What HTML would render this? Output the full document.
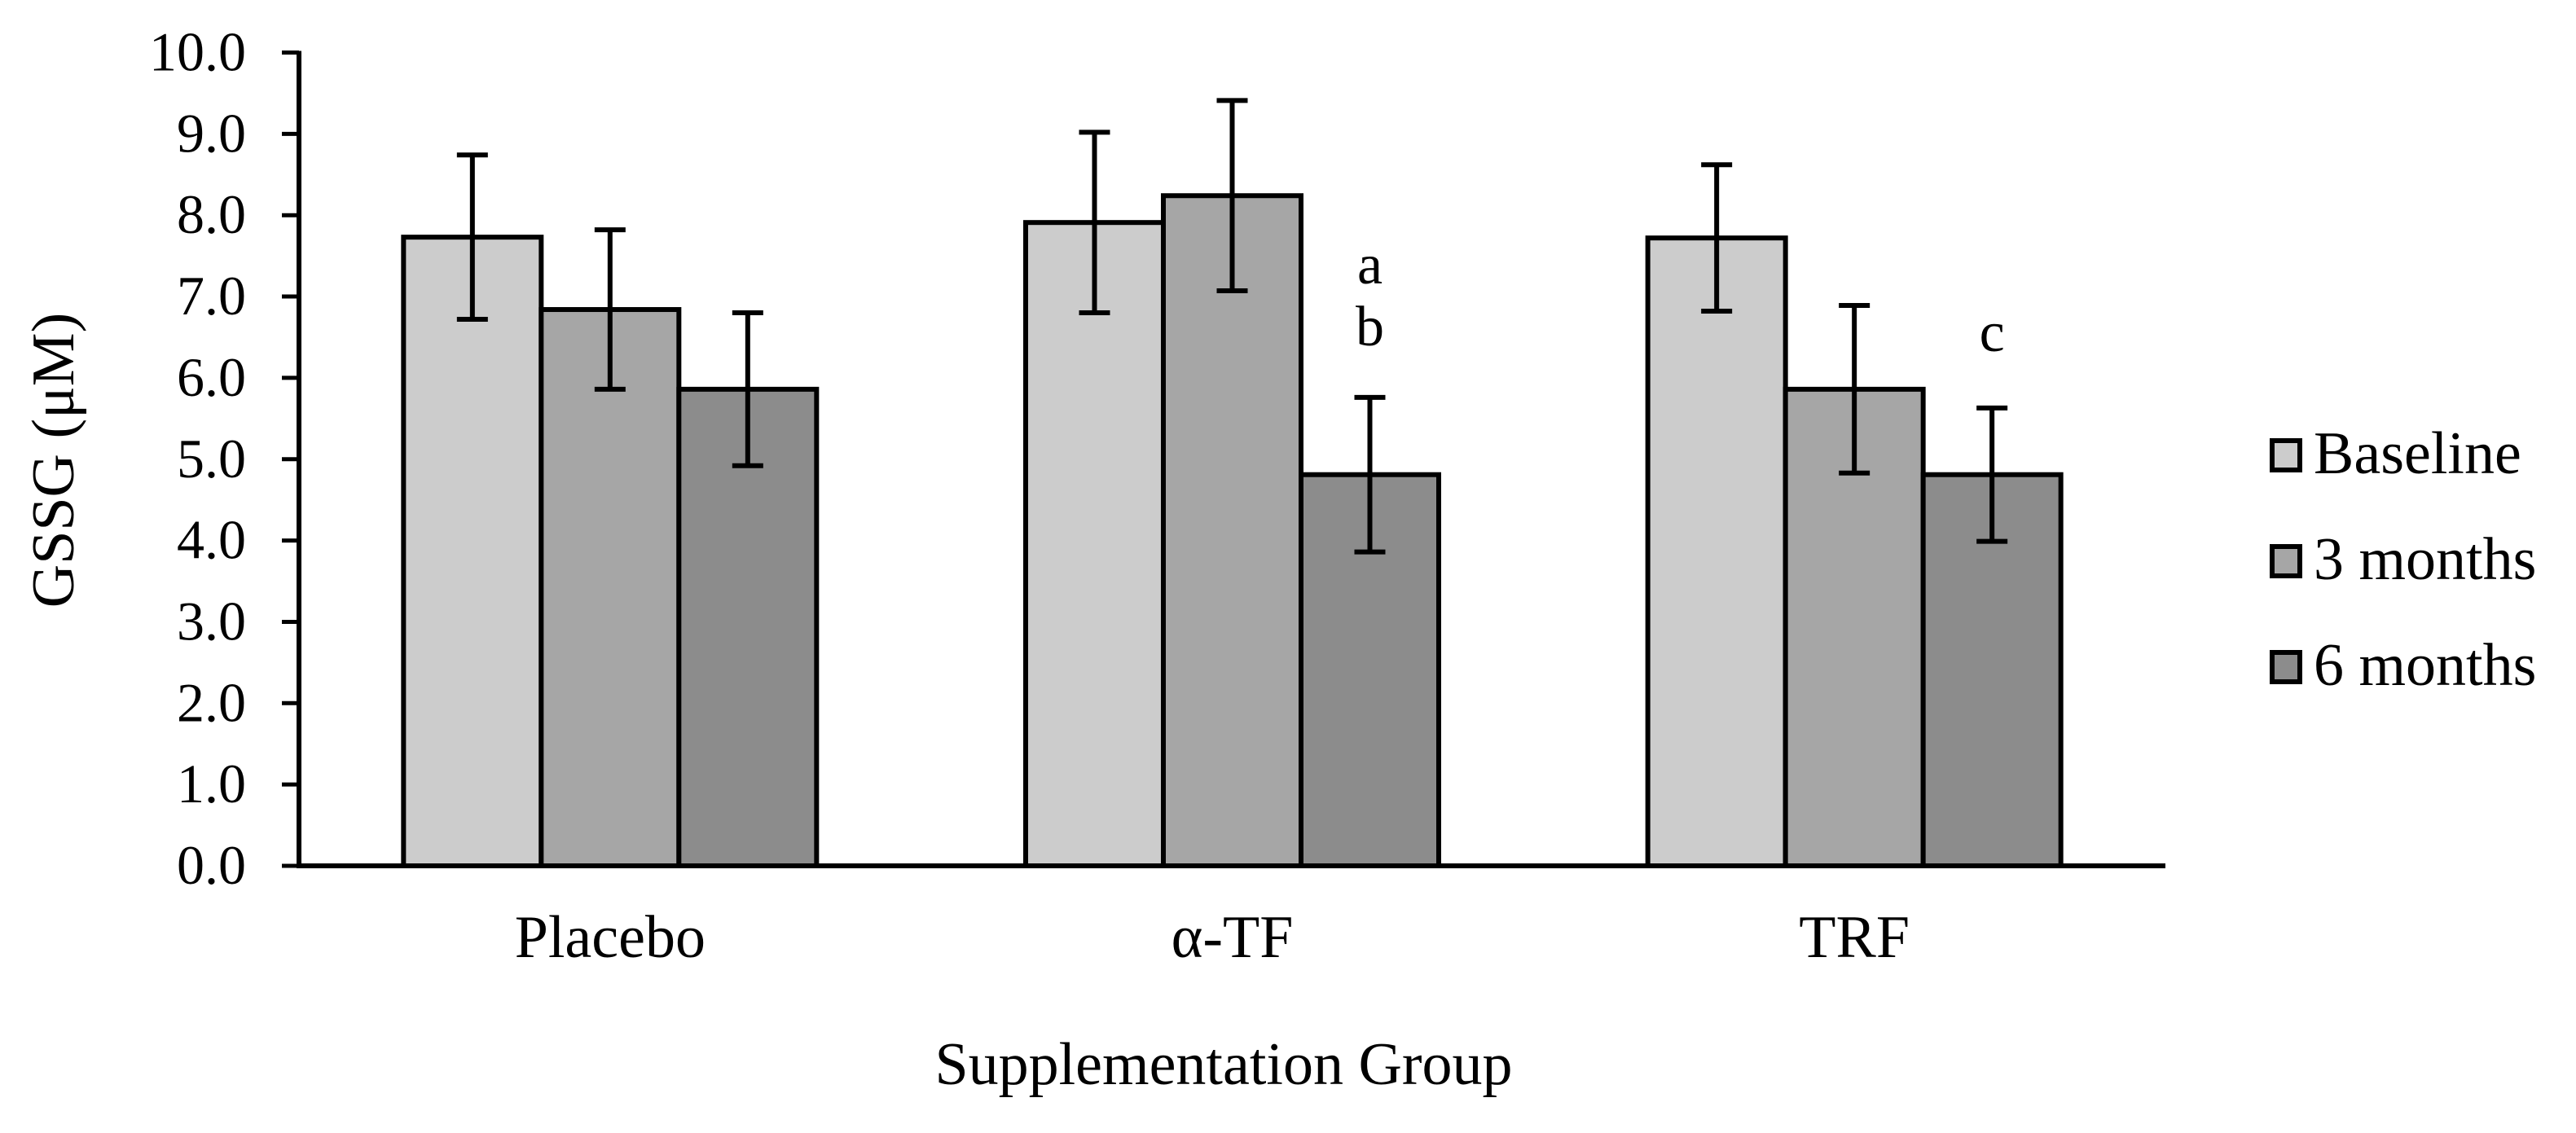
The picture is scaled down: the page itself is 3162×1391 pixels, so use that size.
<!DOCTYPE html>
<html><head><meta charset="utf-8"><style>
html,body{margin:0;padding:0;background:#fff;}
svg{display:block;font-family:"Liberation Serif","Times New Roman",serif;}
</style></head><body>
<svg id="chart" width="3162" height="1391" viewBox="0 0 3162 1391" xmlns="http://www.w3.org/2000/svg">
<rect width="3162" height="1391" fill="#fff"/>
<g id="bars"></g>
<g id="axes"></g>
<text transform="translate(90,565) rotate(-90)" text-anchor="middle" font-size="74">GSSG (μM)</text>
<text x="1502" y="1331" text-anchor="middle" font-size="74">Supplementation Group</text>
<g id="legend"></g>
</svg>
<script>
const categories = ["Placebo", "α-TF", "TRF"];
const seriesNames = ["Baseline", "3 months", "6 months"];
const baseline = [7.73, 7.91, 7.72];
const months3 = [6.84, 8.24, 5.86];
const months6 = [5.86, 4.81, 4.81];
const baselineErr = [1.01, 1.11, 0.90];
const months3Err = [0.98, 1.17, 1.03];
const months6Err = [0.94, 0.95, 0.82];
const yTicks = ["0.0","1.0","2.0","3.0","4.0","5.0","6.0","7.0","8.0","9.0","10.0"];
const annotations = [{cat:1, series:2, text:"a", value:7.16}, {cat:1, series:2, text:"b", value:6.40}, {cat:2, series:2, text:"c", value:6.33}];

const NS = "http://www.w3.org/2000/svg";
const colors = ["#cccccc", "#a6a6a6", "#8c8c8c"];
const X0 = 367, X1 = 2658, Y0 = 1063, YMAX = 10, YTOP = 64.5;
const catW = (X1 - X0) / categories.length, barW = 169;
function yScale(v){ return Y0 - (Y0 - YTOP) * v / YMAX; }
function xBar(c, s){ return X0 + c * catW + (catW - 3 * barW) / 2 + s * barW; }
function mk(tag, attrs, parent){ const e = document.createElementNS(NS, tag); for (const k in attrs) e.setAttribute(k, attrs[k]); parent.appendChild(e); return e; }

const series = [baseline, months3, months6];
const errs = [baselineErr, months3Err, months6Err];
const bars = document.getElementById('bars');
for (let c = 0; c < categories.length; c++) {
  for (let s = 0; s < 3; s++) {
    const v = series[s][c], x = xBar(c, s), y = yScale(v);
    const r = mk('rect', {x: x, y: y, width: barW, height: Y0 - y, fill: colors[s], stroke: '#000', 'stroke-width': 6}, bars);
    
    
  }
}
for (let c = 0; c < categories.length; c++) {
  for (let s = 0; s < 3; s++) {
    const v = series[s][c], e = errs[s][c], cx = xBar(c, s) + barW / 2;
    const g = mk('g', {stroke: '#000', 'stroke-width': 6}, bars);
    
    
    mk('line', {x1: cx, x2: cx, y1: yScale(v + e), y2: yScale(v - e)}, g);
    mk('line', {x1: cx - 19, x2: cx + 19, y1: yScale(v + e), y2: yScale(v + e)}, g);
    mk('line', {x1: cx - 19, x2: cx + 19, y1: yScale(v - e), y2: yScale(v - e)}, g);
  }
}
annotations.forEach(a => {
  const t = mk('text', {x: xBar(a.cat, a.series) + barW / 2, y: yScale(a.value), 'text-anchor': 'middle', 'font-size': 70}, bars);
  
  
  t.textContent = a.text;
});

const axes = document.getElementById('axes');
const yl = mk('line', {x1: X0, x2: X0, y1: YTOP - 2, y2: Y0 + 3, stroke: '#000', 'stroke-width': 6}, axes);


const xl = mk('line', {x1: X0 - 3, x2: X1, y1: Y0, y2: Y0, stroke: '#000', 'stroke-width': 6}, axes);


yTicks.forEach((lab, i) => {
  const y = yScale(parseFloat(lab));
  mk('line', {x1: X0 - 21, x2: X0, y1: y, y2: y, stroke: '#000', 'stroke-width': 5}, axes);
  const t = mk('text', {x: 302, y: y + 22, 'text-anchor': 'end', 'font-size': 68}, axes);
  
  
  t.textContent = lab;
});
categories.forEach((c, i) => {
  const t = mk('text', {x: X0 + (i + 0.5) * catW, y: 1175, 'text-anchor': 'middle', 'font-size': 74}, axes);
  
  
  t.textContent = c;
});

const legend = document.getElementById('legend');
seriesNames.forEach((n, i) => {
  const yb = 581 + i * 130;
  const g = mk('g', {}, legend);
  
  
  mk('rect', {x: 2789, y: yb - 40, width: 34, height: 36, fill: colors[i], stroke: '#000', 'stroke-width': 6}, g);
  const t = mk('text', {x: 2840, y: yb, 'font-size': 74}, g);
  t.textContent = n;
});
</script>
</body></html>
